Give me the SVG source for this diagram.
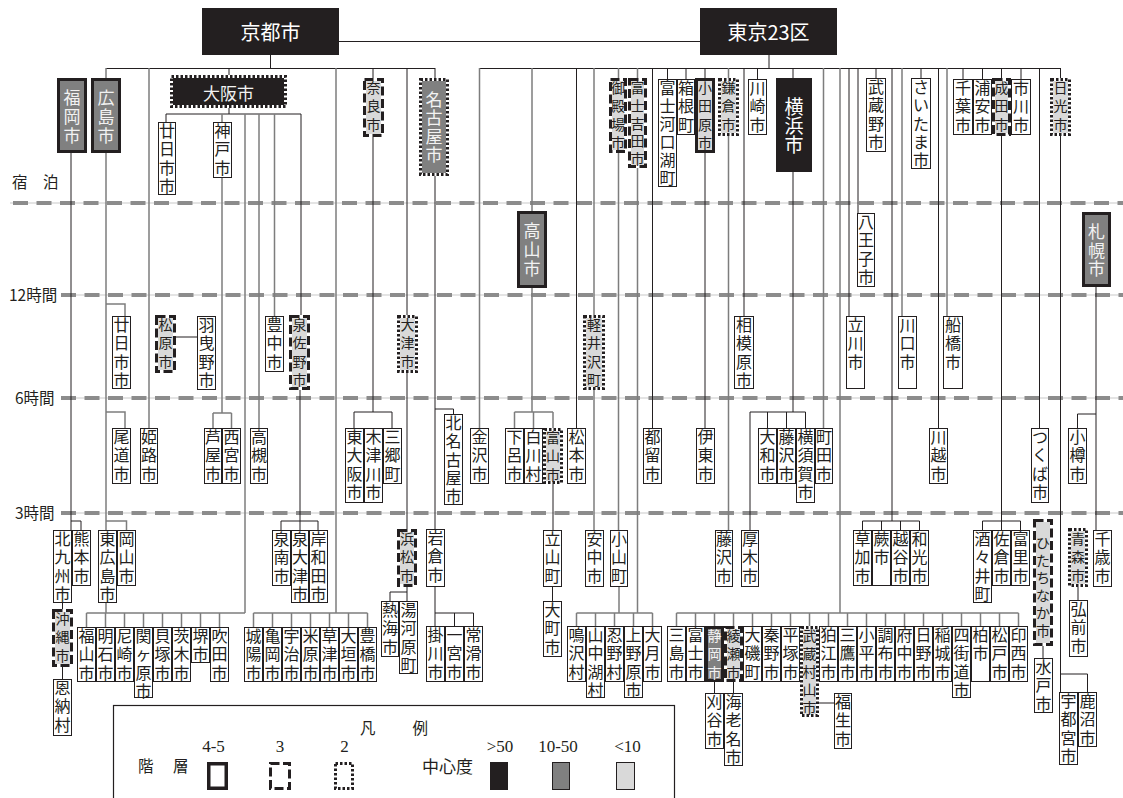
<svg xmlns="http://www.w3.org/2000/svg" width="1123" height="798" viewBox="0 0 1123 798">
<style>
.ck{fill:none;stroke:#231f20;stroke-width:1}
.cg{fill:none;stroke:#7d7d7d;stroke-width:1.5}
.w{fill:#fff;stroke:#231f20;stroke-width:1}
.bl{fill:#d9d9d9;stroke:#fff;stroke-width:3}
.bd{fill:#808080;stroke:#fff;stroke-width:3}
.bk{fill:#231f20;stroke:#fff;stroke-width:3}
.sl{fill:#d9d9d9;stroke:#231f20;stroke-width:3}
.sd{fill:#808080;stroke:#231f20;stroke-width:3}
.da{fill:none;stroke:#231f20;stroke-width:3;stroke-dasharray:9 3.5}
.do{fill:none;stroke:#231f20;stroke-width:3;stroke-dasharray:2.5 2}
.blk{fill:#231f20}
text{font-family:"Noto Sans CJK JP","Noto Sans CJK SC",sans-serif;fill:#231f20}
.t{font-size:16px;text-anchor:middle}
.ts{font-size:14px;text-anchor:middle}
.tb{font-size:17px;text-anchor:middle;fill:#f2f2f2}
.th{font-size:20px;text-anchor:middle;fill:#fff}
.tw{fill:#f2f2f2}
.lab{font-size:15.5px}
.num{font-family:"Liberation Serif",serif;font-size:17px;text-anchor:middle}
.tl1{stroke:#dcdcdc;stroke-width:1.5;fill:none}
.tl2{stroke:#8c8c8c;stroke-width:4;stroke-dasharray:15 8.5;fill:none}
</style>
<rect width="1123" height="798" fill="#fff"/>
<g id="time-lines">
<path class="tl1" d="M10,203H1123M61,295H1123M61,398H1123M61,513H1123"/>
<path class="tl2" d="M13,203H1123M61,295H1123M61,398H1123M61,513H1123"/>
<text class="lab" x="12" y="188">宿　泊</text>
<text class="lab" x="9" y="301">12時間</text>
<text class="lab" x="15" y="404">6時間</text>
<text class="lab" x="15" y="519">3時間</text>
</g>
<g id="connectors">
<path class="ck" d="M339,41.5H700M270.5,55V68.5M106,68.5H435M71,153V530M71,521H81V530M229,68V75M229,108V114M166,114H301M166,114V122M301,114V315M300,390V530M281,521H318M281,521V530M318,521V530M176,337H197M373,68V78M373,137V412M354,412H392M354,412V428M392,412V428M407,68V315M407,373V529M407,587V601M390,592H407M390,592V601M435,68V78M435,176V529M435,409H453.5V414M435,587V626M435,613H473.5M454.5,613V626M473.5,613V626M62.5,603V610M62.5,667V679"/>
<path class="ck" d="M769,55V68.5M479,68.5H1060.5M576.5,68V428M652.5,68V428M705,68V78M705,153V428M744,68V316M757.5,68V79M667.5,68V79M686,68V79M793,68V78M793,172V412M750,412H805.5M767.5,412V428M786.5,412V428M805.5,412V428M750,412V530M849,68V316M858,68V213M876,68V78M892,68V521M862.5,521H919.5M862.5,521V530M881.5,521V530M900.5,521V530M919.5,521V530M921,68V78M938.5,68V428M963,68V79M982.5,68V79M1001.5,68V78M1021,68V79M1001.5,136V530M982.5,521H1020.5M982.5,521V530M1020.5,521V530M1039.5,68V428M1060.5,68V78M1060.5,136V692M1060.5,674H1087.5V692M1043,645V658M1096,287V530M1077.5,414H1096M1077.5,414V428M1078,587V600M714.5,682V693M733.5,682V693M819,703H834M553,484V530M552.5,587V601"/>
<path class="cg" d="M106,68V78M106,153V613M106,304H125V316M106,412H125V428M106,521H126.5V530M149,68V428M222,114V122M222,178V413M213,413H231.5M213,413V428M231.5,413V428M245,114V613M86.5,613H245M86.5,613V627M105.5,613V627M124.5,613V627M143.5,613V627M162.5,613V627M181.5,613V627M200.5,613V627M219.5,613V627M259,114V428M274.5,114V316M336,68V613M253.5,613H367.5M253.5,613V627M272.5,613V627M291.5,613V627M310.5,613V627M329.5,613V627M348.5,613V627M367.5,613V627"/>
<path class="cg" d="M479.5,68V428M532,68V211M532,288V412M514.5,412H553M514.5,412V428M533.5,412V428M553,412V428M594,68V315M594,390V530M618.5,68V78M618.5,153V530M619,587V613M637.5,68V78M637.5,168V613M576.5,613H652.5M576.5,613V626M595.5,613V626M614.5,613V626M633.5,613V626M652.5,613V626M728.5,68V78M728.5,136V530M823.5,68V428M840,68V613M676.5,613H1018.5M676.5,613V626M695.5,613V626M714.5,613V626M733.5,613V626M752.5,613V626M771.5,613V626M790.5,613V626M809.5,613V626M828.5,613V626M847.5,613V626M866.5,613V626M885.5,613V626M904.5,613V626M923.5,613V626M942.5,613V626M961.5,613V626M980.5,613V626M999.5,613V626M1018.5,613V626M902,68V316M947,68V316"/>
</g>
<g id="n-kyoto"><rect class="blk" x="202" y="8" width="137" height="47"/><text class="th" x="270.5" y="40">京都市</text></g>
<g id="n-tokyo"><rect class="blk" x="700" y="8" width="137" height="47"/><text class="th" x="768.5" y="40">東京23区</text></g>
<g id="n-fukuoka"><rect class="sd" x="58.5" y="79.5" width="27" height="72"/><text class="tb"><tspan x="72" y="103.5">福</tspan><tspan x="72" y="122.5">岡</tspan><tspan x="72" y="141.5">市</tspan></text></g>
<g id="n-hiroshima"><rect class="sd" x="92.5" y="79.5" width="27" height="72"/><text class="tb"><tspan x="106" y="103.5">広</tspan><tspan x="106" y="122.5">島</tspan><tspan x="106" y="141.5">市</tspan></text></g>
<g id="n-osaka"><rect class="bk" x="171.5" y="76.5" width="114" height="30"/><rect class="do" x="171.5" y="76.5" width="114" height="30"/><text class="tb" x="228.5" y="99.5">大阪市</text></g>
<g id="n-nara"><rect class="bl" x="364.5" y="79.5" width="18" height="56"/><rect class="da" x="364.5" y="79.5" width="18" height="56"/><text class="ts"><tspan x="373.5" y="93">奈</tspan><tspan x="373.5" y="111.3">良</tspan><tspan x="373.5" y="129.6">市</tspan></text></g>
<g id="n-nagoya"><rect class="bd" x="420.5" y="79.5" width="27" height="95"/><rect class="do" x="420.5" y="79.5" width="27" height="95"/><text class="tb"><tspan x="434" y="105.5">名</tspan><tspan x="434" y="124">古</tspan><tspan x="434" y="142.5">屋</tspan><tspan x="434" y="161">市</tspan></text></g>
<g id="n-hatsukaichi1"><rect class="w" x="158.5" y="122.5" width="17" height="72"/><text class="t"><tspan x="167" y="137">廿</tspan><tspan x="167" y="155.3">日</tspan><tspan x="167" y="173.6">市</tspan><tspan x="167" y="191.9">市</tspan></text></g>
<g id="n-kobe"><rect class="w" x="213.5" y="122.5" width="18" height="55"/><text class="t"><tspan x="222.5" y="137">神</tspan><tspan x="222.5" y="155.3">戸</tspan><tspan x="222.5" y="173.6">市</tspan></text></g>
<g id="n-hatsukaichi2"><rect class="w" x="112.5" y="316.5" width="18" height="72"/><text class="t"><tspan x="121.5" y="331">廿</tspan><tspan x="121.5" y="349.3">日</tspan><tspan x="121.5" y="367.6">市</tspan><tspan x="121.5" y="385.9">市</tspan></text></g>
<g id="n-matsubara"><rect class="bl" x="156.5" y="316.5" width="18" height="55"/><rect class="da" x="156.5" y="316.5" width="18" height="55"/><text class="ts"><tspan x="165.5" y="330">松</tspan><tspan x="165.5" y="348.3">原</tspan><tspan x="165.5" y="366.6">市</tspan></text></g>
<g id="n-habikino"><rect class="w" x="197.5" y="316.5" width="18" height="73"/><text class="t"><tspan x="206.5" y="331">羽</tspan><tspan x="206.5" y="349.3">曳</tspan><tspan x="206.5" y="367.6">野</tspan><tspan x="206.5" y="385.9">市</tspan></text></g>
<g id="n-toyonaka"><rect class="w" x="265.5" y="316.5" width="18" height="55"/><text class="t"><tspan x="274.5" y="331">豊</tspan><tspan x="274.5" y="349.3">中</tspan><tspan x="274.5" y="367.6">市</tspan></text></g>
<g id="n-izumisano"><rect class="bl" x="290.5" y="316.5" width="18" height="72"/><rect class="da" x="290.5" y="316.5" width="18" height="72"/><text class="ts"><tspan x="299.5" y="330">泉</tspan><tspan x="299.5" y="348.3">佐</tspan><tspan x="299.5" y="366.6">野</tspan><tspan x="299.5" y="384.9">市</tspan></text></g>
<g id="n-otsu"><rect class="bl" x="398.5" y="316.5" width="18" height="55"/><rect class="do" x="398.5" y="316.5" width="18" height="55"/><text class="ts"><tspan x="407.5" y="330">大</tspan><tspan x="407.5" y="348.3">津</tspan><tspan x="407.5" y="366.6">市</tspan></text></g>
<g id="n-onomichi"><rect class="w" x="112.5" y="428.5" width="18" height="55"/><text class="t"><tspan x="121.5" y="443">尾</tspan><tspan x="121.5" y="461.3">道</tspan><tspan x="121.5" y="479.6">市</tspan></text></g>
<g id="n-himeji"><rect class="w" x="140.5" y="428.5" width="17" height="55"/><text class="t"><tspan x="149" y="443">姫</tspan><tspan x="149" y="461.3">路</tspan><tspan x="149" y="479.6">市</tspan></text></g>
<g id="n-ashiya"><rect class="w" x="204.5" y="428.5" width="17" height="55"/><text class="t"><tspan x="213" y="443">芦</tspan><tspan x="213" y="461.3">屋</tspan><tspan x="213" y="479.6">市</tspan></text></g>
<g id="n-nishinomiya"><rect class="w" x="222.5" y="428.5" width="18" height="55"/><text class="t"><tspan x="231.5" y="443">西</tspan><tspan x="231.5" y="461.3">宮</tspan><tspan x="231.5" y="479.6">市</tspan></text></g>
<g id="n-takatsuki"><rect class="w" x="250.5" y="428.5" width="17" height="55"/><text class="t"><tspan x="259" y="443">高</tspan><tspan x="259" y="461.3">槻</tspan><tspan x="259" y="479.6">市</tspan></text></g>
<g id="n-higashiosaka"><rect class="w" x="345.5" y="428.5" width="18" height="74"/><text class="t"><tspan x="354.5" y="443">東</tspan><tspan x="354.5" y="461.3">大</tspan><tspan x="354.5" y="479.6">阪</tspan><tspan x="354.5" y="497.9">市</tspan></text></g>
<g id="n-kizugawa"><rect class="w" x="364.5" y="428.5" width="18" height="74"/><text class="t"><tspan x="373.5" y="443">木</tspan><tspan x="373.5" y="461.3">津</tspan><tspan x="373.5" y="479.6">川</tspan><tspan x="373.5" y="497.9">市</tspan></text></g>
<g id="n-sango"><rect class="w" x="383.5" y="428.5" width="18" height="55"/><text class="t"><tspan x="392.5" y="443">三</tspan><tspan x="392.5" y="461.3">郷</tspan><tspan x="392.5" y="479.6">町</tspan></text></g>
<g id="n-kitanagoya"><rect class="w" x="444.5" y="414.5" width="18" height="90"/><text class="t"><tspan x="453.5" y="429">北</tspan><tspan x="453.5" y="447.3">名</tspan><tspan x="453.5" y="465.6">古</tspan><tspan x="453.5" y="483.9">屋</tspan><tspan x="453.5" y="502.2">市</tspan></text></g>
<g id="n-kitakyushu"><rect class="w" x="53.5" y="530.5" width="18" height="72"/><text class="t"><tspan x="62.5" y="545">北</tspan><tspan x="62.5" y="563.3">九</tspan><tspan x="62.5" y="581.6">州</tspan><tspan x="62.5" y="599.9">市</tspan></text></g>
<g id="n-kumamoto"><rect class="w" x="72.5" y="530.5" width="18" height="55"/><text class="t"><tspan x="81.5" y="545">熊</tspan><tspan x="81.5" y="563.3">本</tspan><tspan x="81.5" y="581.6">市</tspan></text></g>
<g id="n-higashihiroshima"><rect class="w" x="98.5" y="530.5" width="18" height="72"/><text class="t"><tspan x="107.5" y="545">東</tspan><tspan x="107.5" y="563.3">広</tspan><tspan x="107.5" y="581.6">島</tspan><tspan x="107.5" y="599.9">市</tspan></text></g>
<g id="n-okayama"><rect class="w" x="117.5" y="530.5" width="18" height="55"/><text class="t"><tspan x="126.5" y="545">岡</tspan><tspan x="126.5" y="563.3">山</tspan><tspan x="126.5" y="581.6">市</tspan></text></g>
<g id="n-sennan"><rect class="w" x="272.5" y="530.5" width="18" height="55"/><text class="t"><tspan x="281.5" y="545">泉</tspan><tspan x="281.5" y="563.3">南</tspan><tspan x="281.5" y="581.6">市</tspan></text></g>
<g id="n-izumiotsu"><rect class="w" x="291.5" y="530.5" width="17" height="72"/><text class="t"><tspan x="300" y="545">泉</tspan><tspan x="300" y="563.3">大</tspan><tspan x="300" y="581.6">津</tspan><tspan x="300" y="599.9">市</tspan></text></g>
<g id="n-kishiwada"><rect class="w" x="309.5" y="530.5" width="18" height="72"/><text class="t"><tspan x="318.5" y="545">岸</tspan><tspan x="318.5" y="563.3">和</tspan><tspan x="318.5" y="581.6">田</tspan><tspan x="318.5" y="599.9">市</tspan></text></g>
<g id="n-hamamatsu"><rect class="bl" x="398.5" y="530.5" width="17" height="55"/><rect class="da" x="398.5" y="530.5" width="17" height="55"/><text class="ts"><tspan x="407" y="544">浜</tspan><tspan x="407" y="562.3">松</tspan><tspan x="407" y="580.6">市</tspan></text></g>
<g id="n-iwakura"><rect class="w" x="426.5" y="529.5" width="18" height="57"/><text class="t"><tspan x="435.5" y="544">岩</tspan><tspan x="435.5" y="562.3">倉</tspan><tspan x="435.5" y="580.6">市</tspan></text></g>
<g id="n-okinawa"><rect class="bl" x="53.5" y="610.5" width="18" height="55"/><rect class="da" x="53.5" y="610.5" width="18" height="55"/><text class="ts"><tspan x="62.5" y="624">沖</tspan><tspan x="62.5" y="642.3">縄</tspan><tspan x="62.5" y="660.6">市</tspan></text></g>
<g id="n-onna"><rect class="w" x="53.5" y="679.5" width="18" height="56"/><text class="t"><tspan x="62.5" y="694">恩</tspan><tspan x="62.5" y="712.3">納</tspan><tspan x="62.5" y="730.6">村</tspan></text></g>
<g id="n-fukuyama"><rect class="w" x="77.5" y="627.5" width="18" height="54"/><text class="t"><tspan x="86.5" y="642">福</tspan><tspan x="86.5" y="660.3">山</tspan><tspan x="86.5" y="678.6">市</tspan></text></g>
<g id="n-akashi"><rect class="w" x="96.5" y="627.5" width="18" height="54"/><text class="t"><tspan x="105.5" y="642">明</tspan><tspan x="105.5" y="660.3">石</tspan><tspan x="105.5" y="678.6">市</tspan></text></g>
<g id="n-amagasaki"><rect class="w" x="115.5" y="627.5" width="18" height="54"/><text class="t"><tspan x="124.5" y="642">尼</tspan><tspan x="124.5" y="660.3">崎</tspan><tspan x="124.5" y="678.6">市</tspan></text></g>
<g id="n-sekigahara"><rect class="w" x="134.5" y="627.5" width="18" height="70"/><text class="t"><tspan x="143.5" y="642">関</tspan><tspan x="143.5" y="660.3">ヶ</tspan><tspan x="143.5" y="678.6">原</tspan><tspan x="143.5" y="696.9">市</tspan></text></g>
<g id="n-kaizuka"><rect class="w" x="153.5" y="627.5" width="18" height="54"/><text class="t"><tspan x="162.5" y="642">貝</tspan><tspan x="162.5" y="660.3">塚</tspan><tspan x="162.5" y="678.6">市</tspan></text></g>
<g id="n-ibaraki"><rect class="w" x="172.5" y="627.5" width="18" height="54"/><text class="t"><tspan x="181.5" y="642">茨</tspan><tspan x="181.5" y="660.3">木</tspan><tspan x="181.5" y="678.6">市</tspan></text></g>
<g id="n-sakai"><rect class="w" x="191.5" y="627.5" width="18" height="35"/><text class="t"><tspan x="200.5" y="642">堺</tspan><tspan x="200.5" y="660.3">市</tspan></text></g>
<g id="n-suita"><rect class="w" x="210.5" y="627.5" width="18" height="54"/><text class="t"><tspan x="219.5" y="642">吹</tspan><tspan x="219.5" y="660.3">田</tspan><tspan x="219.5" y="678.6">市</tspan></text></g>
<g id="n-joyo"><rect class="w" x="244.5" y="627.5" width="18" height="54"/><text class="t"><tspan x="253.5" y="642">城</tspan><tspan x="253.5" y="660.3">陽</tspan><tspan x="253.5" y="678.6">市</tspan></text></g>
<g id="n-kameoka"><rect class="w" x="263.5" y="627.5" width="18" height="54"/><text class="t"><tspan x="272.5" y="642">亀</tspan><tspan x="272.5" y="660.3">岡</tspan><tspan x="272.5" y="678.6">市</tspan></text></g>
<g id="n-uji"><rect class="w" x="282.5" y="627.5" width="18" height="54"/><text class="t"><tspan x="291.5" y="642">宇</tspan><tspan x="291.5" y="660.3">治</tspan><tspan x="291.5" y="678.6">市</tspan></text></g>
<g id="n-maibara"><rect class="w" x="301.5" y="627.5" width="18" height="54"/><text class="t"><tspan x="310.5" y="642">米</tspan><tspan x="310.5" y="660.3">原</tspan><tspan x="310.5" y="678.6">市</tspan></text></g>
<g id="n-kusatsu"><rect class="w" x="320.5" y="627.5" width="18" height="54"/><text class="t"><tspan x="329.5" y="642">草</tspan><tspan x="329.5" y="660.3">津</tspan><tspan x="329.5" y="678.6">市</tspan></text></g>
<g id="n-ogaki"><rect class="w" x="339.5" y="627.5" width="18" height="54"/><text class="t"><tspan x="348.5" y="642">大</tspan><tspan x="348.5" y="660.3">垣</tspan><tspan x="348.5" y="678.6">市</tspan></text></g>
<g id="n-toyohashi"><rect class="w" x="358.5" y="627.5" width="18" height="54"/><text class="t"><tspan x="367.5" y="642">豊</tspan><tspan x="367.5" y="660.3">橋</tspan><tspan x="367.5" y="678.6">市</tspan></text></g>
<g id="n-atami"><rect class="w" x="381.5" y="601.5" width="17" height="55"/><text class="t"><tspan x="390" y="616">熱</tspan><tspan x="390" y="634.3">海</tspan><tspan x="390" y="652.6">市</tspan></text></g>
<g id="n-yugawara"><rect class="w" x="399.5" y="601.5" width="18" height="72"/><text class="t"><tspan x="408.5" y="616">湯</tspan><tspan x="408.5" y="634.3">河</tspan><tspan x="408.5" y="652.6">原</tspan><tspan x="408.5" y="670.9">町</tspan></text></g>
<g id="n-kakegawa"><rect class="w" x="426.5" y="626.5" width="18" height="55"/><text class="t"><tspan x="435.5" y="641">掛</tspan><tspan x="435.5" y="659.3">川</tspan><tspan x="435.5" y="677.6">市</tspan></text></g>
<g id="n-ichinomiya"><rect class="w" x="445.5" y="626.5" width="18" height="55"/><text class="t"><tspan x="454.5" y="641">一</tspan><tspan x="454.5" y="659.3">宮</tspan><tspan x="454.5" y="677.6">市</tspan></text></g>
<g id="n-tokoname"><rect class="w" x="464.5" y="626.5" width="18" height="55"/><text class="t"><tspan x="473.5" y="641">常</tspan><tspan x="473.5" y="659.3">滑</tspan><tspan x="473.5" y="677.6">市</tspan></text></g>
<g id="n-takayama"><rect class="sd" x="518.5" y="212.5" width="27" height="74"/><text class="tb"><tspan x="532" y="236.5">高</tspan><tspan x="532" y="255.5">山</tspan><tspan x="532" y="274.5">市</tspan></text></g>
<g id="n-gero"><rect class="w" x="505.5" y="428.5" width="18" height="55"/><text class="t"><tspan x="514.5" y="443">下</tspan><tspan x="514.5" y="461.3">呂</tspan><tspan x="514.5" y="479.6">市</tspan></text></g>
<g id="n-shirakawa"><rect class="w" x="524.5" y="428.5" width="18" height="55"/><text class="t"><tspan x="533.5" y="443">白</tspan><tspan x="533.5" y="461.3">川</tspan><tspan x="533.5" y="479.6">村</tspan></text></g>
<g id="n-toyama"><rect class="bl" x="544.5" y="429.5" width="17" height="53"/><rect class="do" x="544.5" y="429.5" width="17" height="53"/><text class="ts"><tspan x="553" y="443">富</tspan><tspan x="553" y="461.3">山</tspan><tspan x="553" y="479.6">市</tspan></text></g>
<g id="n-tateyama"><rect class="w" x="543.5" y="530.5" width="18" height="56"/><text class="t"><tspan x="552.5" y="545">立</tspan><tspan x="552.5" y="563.3">山</tspan><tspan x="552.5" y="581.6">町</tspan></text></g>
<g id="n-omachi"><rect class="w" x="543.5" y="601.5" width="18" height="55"/><text class="t"><tspan x="552.5" y="616">大</tspan><tspan x="552.5" y="634.3">町</tspan><tspan x="552.5" y="652.6">市</tspan></text></g>
<g id="n-kanazawa"><rect class="w" x="470.5" y="428.5" width="18" height="55"/><text class="t"><tspan x="479.5" y="443">金</tspan><tspan x="479.5" y="461.3">沢</tspan><tspan x="479.5" y="479.6">市</tspan></text></g>
<g id="n-matsumoto"><rect class="w" x="567.5" y="428.5" width="18" height="55"/><text class="t"><tspan x="576.5" y="443">松</tspan><tspan x="576.5" y="461.3">本</tspan><tspan x="576.5" y="479.6">市</tspan></text></g>
<g id="n-karuizawa"><rect class="bl" x="584.5" y="316.5" width="19" height="72"/><rect class="do" x="584.5" y="316.5" width="19" height="72"/><text class="ts"><tspan x="594" y="330">軽</tspan><tspan x="594" y="348.3">井</tspan><tspan x="594" y="366.6">沢</tspan><tspan x="594" y="384.9">町</tspan></text></g>
<g id="n-annaka"><rect class="w" x="585.5" y="530.5" width="18" height="56"/><text class="t"><tspan x="594.5" y="545">安</tspan><tspan x="594.5" y="563.3">中</tspan><tspan x="594.5" y="581.6">市</tspan></text></g>
<g id="n-gotemba"><rect class="bl" x="610.5" y="79.5" width="15" height="72"/><rect class="da" x="610.5" y="79.5" width="15" height="72"/><text class="ts"><tspan x="618" y="93">御</tspan><tspan x="618" y="111.3">殿</tspan><tspan x="618" y="129.6">場</tspan><tspan x="618" y="147.9">市</tspan></text></g>
<g id="n-fujiyoshida"><rect class="bl" x="629.5" y="79.5" width="16" height="87"/><rect class="da" x="629.5" y="79.5" width="16" height="87"/><text class="ts"><tspan x="637.5" y="93">富</tspan><tspan x="637.5" y="110.8">士</tspan><tspan x="637.5" y="128.6">吉</tspan><tspan x="637.5" y="146.4">田</tspan><tspan x="637.5" y="164.2">市</tspan></text></g>
<g id="n-oyama"><rect class="w" x="610.5" y="530.5" width="17" height="56"/><text class="t"><tspan x="619" y="545">小</tspan><tspan x="619" y="563.3">山</tspan><tspan x="619" y="581.6">町</tspan></text></g>
<g id="n-tsuru"><rect class="w" x="643.5" y="428.5" width="18" height="55"/><text class="t"><tspan x="652.5" y="443">都</tspan><tspan x="652.5" y="461.3">留</tspan><tspan x="652.5" y="479.6">市</tspan></text></g>
<g id="n-fujikawaguchiko"><rect class="w" x="658.5" y="79.5" width="18" height="107"/><text class="t"><tspan x="667.5" y="94">富</tspan><tspan x="667.5" y="112">士</tspan><tspan x="667.5" y="130">河</tspan><tspan x="667.5" y="148">口</tspan><tspan x="667.5" y="166">湖</tspan><tspan x="667.5" y="184">町</tspan></text></g>
<g id="n-hakone"><rect class="w" x="677.5" y="79.5" width="17" height="55"/><text class="t"><tspan x="686" y="94">箱</tspan><tspan x="686" y="112.3">根</tspan><tspan x="686" y="130.6">町</tspan></text></g>
<g id="n-odawara"><rect class="sl" x="696.5" y="79.5" width="17" height="72"/><text class="ts"><tspan x="705" y="93">小</tspan><tspan x="705" y="111.3">田</tspan><tspan x="705" y="129.6">原</tspan><tspan x="705" y="147.9">市</tspan></text></g>
<g id="n-kamakura"><rect class="bl" x="719.5" y="79.5" width="18" height="55"/><rect class="do" x="719.5" y="79.5" width="18" height="55"/><text class="ts"><tspan x="728.5" y="93">鎌</tspan><tspan x="728.5" y="111.3">倉</tspan><tspan x="728.5" y="129.6">市</tspan></text></g>
<g id="n-kawasaki"><rect class="w" x="748.5" y="79.5" width="18" height="55"/><text class="t"><tspan x="757.5" y="94">川</tspan><tspan x="757.5" y="112.3">崎</tspan><tspan x="757.5" y="130.6">市</tspan></text></g>
<g id="n-yokohama"><rect class="blk" x="776" y="78" width="36" height="94"/><text class="th" style="font-size:19px"><tspan x="794" y="114">横</tspan><tspan x="794" y="133">浜</tspan><tspan x="794" y="152">市</tspan></text></g>
<g id="n-ito"><rect class="w" x="696.5" y="428.5" width="18" height="55"/><text class="t"><tspan x="705.5" y="443">伊</tspan><tspan x="705.5" y="461.3">東</tspan><tspan x="705.5" y="479.6">市</tspan></text></g>
<g id="n-sagamihara"><rect class="w" x="734.5" y="316.5" width="19" height="72"/><text class="t"><tspan x="744" y="331">相</tspan><tspan x="744" y="349.3">模</tspan><tspan x="744" y="367.6">原</tspan><tspan x="744" y="385.9">市</tspan></text></g>
<g id="n-yamato"><rect class="w" x="758.5" y="428.5" width="18" height="55"/><text class="t"><tspan x="767.5" y="443">大</tspan><tspan x="767.5" y="461.3">和</tspan><tspan x="767.5" y="479.6">市</tspan></text></g>
<g id="n-fujisawa1"><rect class="w" x="777.5" y="428.5" width="18" height="55"/><text class="t"><tspan x="786.5" y="443">藤</tspan><tspan x="786.5" y="461.3">沢</tspan><tspan x="786.5" y="479.6">市</tspan></text></g>
<g id="n-yokosuka"><rect class="w" x="796.5" y="428.5" width="18" height="74"/><text class="t"><tspan x="805.5" y="443">横</tspan><tspan x="805.5" y="461.3">須</tspan><tspan x="805.5" y="479.6">賀</tspan><tspan x="805.5" y="497.9">市</tspan></text></g>
<g id="n-machida"><rect class="w" x="815.5" y="428.5" width="17" height="55"/><text class="t"><tspan x="824" y="443">町</tspan><tspan x="824" y="461.3">田</tspan><tspan x="824" y="479.6">市</tspan></text></g>
<g id="n-fujisawa2"><rect class="w" x="715.5" y="530.5" width="17" height="56"/><text class="t"><tspan x="724" y="545">藤</tspan><tspan x="724" y="563.3">沢</tspan><tspan x="724" y="581.6">市</tspan></text></g>
<g id="n-atsugi"><rect class="w" x="741.5" y="530.5" width="17" height="56"/><text class="t"><tspan x="750" y="545">厚</tspan><tspan x="750" y="563.3">木</tspan><tspan x="750" y="581.6">市</tspan></text></g>
<g id="n-narusawa"><rect class="w" x="567.5" y="626.5" width="18" height="55"/><text class="t"><tspan x="576.5" y="641">鳴</tspan><tspan x="576.5" y="659.3">沢</tspan><tspan x="576.5" y="677.6">村</tspan></text></g>
<g id="n-yamanakako"><rect class="w" x="586.5" y="626.5" width="18" height="71"/><text class="t"><tspan x="595.5" y="641">山</tspan><tspan x="595.5" y="659.3">中</tspan><tspan x="595.5" y="677.6">湖</tspan><tspan x="595.5" y="695.9">村</tspan></text></g>
<g id="n-oshino"><rect class="w" x="605.5" y="626.5" width="18" height="55"/><text class="t"><tspan x="614.5" y="641">忍</tspan><tspan x="614.5" y="659.3">野</tspan><tspan x="614.5" y="677.6">村</tspan></text></g>
<g id="n-uenohara"><rect class="w" x="624.5" y="626.5" width="18" height="71"/><text class="t"><tspan x="633.5" y="641">上</tspan><tspan x="633.5" y="659.3">野</tspan><tspan x="633.5" y="677.6">原</tspan><tspan x="633.5" y="695.9">市</tspan></text></g>
<g id="n-otsuki"><rect class="w" x="643.5" y="626.5" width="18" height="55"/><text class="t"><tspan x="652.5" y="641">大</tspan><tspan x="652.5" y="659.3">月</tspan><tspan x="652.5" y="677.6">市</tspan></text></g>
<g id="n-mishima"><rect class="w" x="667.5" y="626.5" width="18" height="55"/><text class="t"><tspan x="676.5" y="641">三</tspan><tspan x="676.5" y="659.3">島</tspan><tspan x="676.5" y="677.6">市</tspan></text></g>
<g id="n-fuji"><rect class="w" x="686.5" y="626.5" width="18" height="55"/><text class="t"><tspan x="695.5" y="641">富</tspan><tspan x="695.5" y="659.3">士</tspan><tspan x="695.5" y="677.6">市</tspan></text></g>
<g id="n-shizuoka"><rect class="sd" x="706.5" y="627.5" width="16" height="53"/><text class="ts tw"><tspan x="714.5" y="641">静</tspan><tspan x="714.5" y="659.3">岡</tspan><tspan x="714.5" y="677.6">市</tspan></text></g>
<g id="n-ayase"><rect class="bl" x="725.5" y="627.5" width="16" height="53"/><rect class="da" x="725.5" y="627.5" width="16" height="53"/><text class="ts"><tspan x="733.5" y="641">綾</tspan><tspan x="733.5" y="659.3">瀬</tspan><tspan x="733.5" y="677.6">市</tspan></text></g>
<g id="n-oiso"><rect class="w" x="743.5" y="626.5" width="18" height="55"/><text class="t"><tspan x="752.5" y="641">大</tspan><tspan x="752.5" y="659.3">磯</tspan><tspan x="752.5" y="677.6">町</tspan></text></g>
<g id="n-hadano"><rect class="w" x="762.5" y="626.5" width="18" height="55"/><text class="t"><tspan x="771.5" y="641">秦</tspan><tspan x="771.5" y="659.3">野</tspan><tspan x="771.5" y="677.6">市</tspan></text></g>
<g id="n-hiratsuka"><rect class="w" x="781.5" y="626.5" width="18" height="55"/><text class="t"><tspan x="790.5" y="641">平</tspan><tspan x="790.5" y="659.3">塚</tspan><tspan x="790.5" y="677.6">市</tspan></text></g>
<g id="n-musashimurayama"><rect class="bl" x="801.5" y="627.5" width="16" height="88"/><rect class="do" x="801.5" y="627.5" width="16" height="88"/><text class="ts"><tspan x="809.5" y="641">武</tspan><tspan x="809.5" y="659">蔵</tspan><tspan x="809.5" y="677">村</tspan><tspan x="809.5" y="695">山</tspan><tspan x="809.5" y="713">市</tspan></text></g>
<g id="n-komae"><rect class="w" x="819.5" y="626.5" width="18" height="55"/><text class="t"><tspan x="828.5" y="641">狛</tspan><tspan x="828.5" y="659.3">江</tspan><tspan x="828.5" y="677.6">市</tspan></text></g>
<g id="n-mitaka"><rect class="w" x="838.5" y="626.5" width="18" height="55"/><text class="t"><tspan x="847.5" y="641">三</tspan><tspan x="847.5" y="659.3">鷹</tspan><tspan x="847.5" y="677.6">市</tspan></text></g>
<g id="n-kodaira"><rect class="w" x="857.5" y="626.5" width="18" height="55"/><text class="t"><tspan x="866.5" y="641">小</tspan><tspan x="866.5" y="659.3">平</tspan><tspan x="866.5" y="677.6">市</tspan></text></g>
<g id="n-chofu"><rect class="w" x="876.5" y="626.5" width="18" height="55"/><text class="t"><tspan x="885.5" y="641">調</tspan><tspan x="885.5" y="659.3">布</tspan><tspan x="885.5" y="677.6">市</tspan></text></g>
<g id="n-fuchu"><rect class="w" x="895.5" y="626.5" width="18" height="55"/><text class="t"><tspan x="904.5" y="641">府</tspan><tspan x="904.5" y="659.3">中</tspan><tspan x="904.5" y="677.6">市</tspan></text></g>
<g id="n-hino"><rect class="w" x="914.5" y="626.5" width="18" height="55"/><text class="t"><tspan x="923.5" y="641">日</tspan><tspan x="923.5" y="659.3">野</tspan><tspan x="923.5" y="677.6">市</tspan></text></g>
<g id="n-inagi"><rect class="w" x="933.5" y="626.5" width="18" height="55"/><text class="t"><tspan x="942.5" y="641">稲</tspan><tspan x="942.5" y="659.3">城</tspan><tspan x="942.5" y="677.6">市</tspan></text></g>
<g id="n-yotsukaido"><rect class="w" x="952.5" y="626.5" width="18" height="71"/><text class="t"><tspan x="961.5" y="641">四</tspan><tspan x="961.5" y="659.3">街</tspan><tspan x="961.5" y="677.6">道</tspan><tspan x="961.5" y="695.9">市</tspan></text></g>
<g id="n-kashiwa"><rect class="w" x="971.5" y="626.5" width="18" height="55"/><text class="t"><tspan x="980.5" y="641">柏</tspan><tspan x="980.5" y="659.3">市</tspan></text></g>
<g id="n-matsudo"><rect class="w" x="990.5" y="626.5" width="18" height="55"/><text class="t"><tspan x="999.5" y="641">松</tspan><tspan x="999.5" y="659.3">戸</tspan><tspan x="999.5" y="677.6">市</tspan></text></g>
<g id="n-inzai"><rect class="w" x="1009.5" y="626.5" width="18" height="55"/><text class="t"><tspan x="1018.5" y="641">印</tspan><tspan x="1018.5" y="659.3">西</tspan><tspan x="1018.5" y="677.6">市</tspan></text></g>
<g id="n-kariya"><rect class="w" x="705.5" y="693.5" width="18" height="55"/><text class="t"><tspan x="714.5" y="708">刈</tspan><tspan x="714.5" y="726.3">谷</tspan><tspan x="714.5" y="744.6">市</tspan></text></g>
<g id="n-ebina"><rect class="w" x="724.5" y="693.5" width="18" height="72"/><text class="t"><tspan x="733.5" y="708">海</tspan><tspan x="733.5" y="726.3">老</tspan><tspan x="733.5" y="744.6">名</tspan><tspan x="733.5" y="762.9">市</tspan></text></g>
<g id="n-fussa"><rect class="w" x="834.5" y="693.5" width="17" height="55"/><text class="t"><tspan x="843" y="708">福</tspan><tspan x="843" y="726.3">生</tspan><tspan x="843" y="744.6">市</tspan></text></g>
<g id="n-musashino"><rect class="w" x="866.5" y="78.5" width="19" height="73"/><text class="t"><tspan x="876" y="93">武</tspan><tspan x="876" y="111.3">蔵</tspan><tspan x="876" y="129.6">野</tspan><tspan x="876" y="147.9">市</tspan></text></g>
<g id="n-saitama"><rect class="w" x="911.5" y="78.5" width="19" height="90"/><text class="t"><tspan x="921" y="93">さ</tspan><tspan x="921" y="111.3">い</tspan><tspan x="921" y="129.6">た</tspan><tspan x="921" y="147.9">ま</tspan><tspan x="921" y="166.2">市</tspan></text></g>
<g id="n-chiba"><rect class="w" x="953.5" y="79.5" width="19" height="55"/><text class="t"><tspan x="963" y="94">千</tspan><tspan x="963" y="112.3">葉</tspan><tspan x="963" y="130.6">市</tspan></text></g>
<g id="n-urayasu"><rect class="w" x="973.5" y="79.5" width="18" height="55"/><text class="t"><tspan x="982.5" y="94">浦</tspan><tspan x="982.5" y="112.3">安</tspan><tspan x="982.5" y="130.6">市</tspan></text></g>
<g id="n-narita"><rect class="bl" x="993.5" y="79.5" width="16" height="55"/><rect class="da" x="993.5" y="79.5" width="16" height="55"/><text class="ts"><tspan x="1001.5" y="93">成</tspan><tspan x="1001.5" y="111.3">田</tspan><tspan x="1001.5" y="129.6">市</tspan></text></g>
<g id="n-ichikawa"><rect class="w" x="1011.5" y="79.5" width="19" height="55"/><text class="t"><tspan x="1021" y="94">市</tspan><tspan x="1021" y="112.3">川</tspan><tspan x="1021" y="130.6">市</tspan></text></g>
<g id="n-nikko"><rect class="bl" x="1051.5" y="79.5" width="18" height="55"/><rect class="do" x="1051.5" y="79.5" width="18" height="55"/><text class="ts"><tspan x="1060.5" y="93">日</tspan><tspan x="1060.5" y="111.3">光</tspan><tspan x="1060.5" y="129.6">市</tspan></text></g>
<g id="n-hachioji"><rect class="w" x="857.5" y="213.5" width="17" height="73"/><text class="t"><tspan x="866" y="228">八</tspan><tspan x="866" y="246.3">王</tspan><tspan x="866" y="264.6">子</tspan><tspan x="866" y="282.9">市</tspan></text></g>
<g id="n-tachikawa"><rect class="w" x="846.5" y="316.5" width="18" height="72"/><text class="t"><tspan x="855.5" y="331">立</tspan><tspan x="855.5" y="349.3">川</tspan><tspan x="855.5" y="367.6">市</tspan></text></g>
<g id="n-kawaguchi"><rect class="w" x="898.5" y="316.5" width="18" height="72"/><text class="t"><tspan x="907.5" y="331">川</tspan><tspan x="907.5" y="349.3">口</tspan><tspan x="907.5" y="367.6">市</tspan></text></g>
<g id="n-funabashi"><rect class="w" x="943.5" y="316.5" width="19" height="72"/><text class="t"><tspan x="953" y="331">船</tspan><tspan x="953" y="349.3">橋</tspan><tspan x="953" y="367.6">市</tspan></text></g>
<g id="n-kawagoe"><rect class="w" x="929.5" y="428.5" width="18" height="55"/><text class="t"><tspan x="938.5" y="443">川</tspan><tspan x="938.5" y="461.3">越</tspan><tspan x="938.5" y="479.6">市</tspan></text></g>
<g id="n-tsukuba"><rect class="w" x="1031.5" y="428.5" width="17" height="74"/><text class="t"><tspan x="1040" y="443">つ</tspan><tspan x="1040" y="461.3">く</tspan><tspan x="1040" y="479.6">ば</tspan><tspan x="1040" y="497.9">市</tspan></text></g>
<g id="n-sapporo"><rect class="sd" x="1083.5" y="213.5" width="26" height="72"/><text class="tb"><tspan x="1096.5" y="237.5">札</tspan><tspan x="1096.5" y="256.5">幌</tspan><tspan x="1096.5" y="275">市</tspan></text></g>
<g id="n-otaru"><rect class="w" x="1068.5" y="428.5" width="18" height="55"/><text class="t"><tspan x="1077.5" y="443">小</tspan><tspan x="1077.5" y="461.3">樽</tspan><tspan x="1077.5" y="479.6">市</tspan></text></g>
<g id="n-soka"><rect class="w" x="853.5" y="530.5" width="18" height="55"/><text class="t"><tspan x="862.5" y="545">草</tspan><tspan x="862.5" y="563.3">加</tspan><tspan x="862.5" y="581.6">市</tspan></text></g>
<g id="n-warabi"><rect class="w" x="872.5" y="530.5" width="18" height="55"/><text class="t"><tspan x="881.5" y="545">蕨</tspan><tspan x="881.5" y="563.3">市</tspan></text></g>
<g id="n-koshigaya"><rect class="w" x="891.5" y="530.5" width="18" height="55"/><text class="t"><tspan x="900.5" y="545">越</tspan><tspan x="900.5" y="563.3">谷</tspan><tspan x="900.5" y="581.6">市</tspan></text></g>
<g id="n-wako"><rect class="w" x="910.5" y="530.5" width="18" height="55"/><text class="t"><tspan x="919.5" y="545">和</tspan><tspan x="919.5" y="563.3">光</tspan><tspan x="919.5" y="581.6">市</tspan></text></g>
<g id="n-shisui"><rect class="w" x="973.5" y="530.5" width="18" height="72"/><text class="t"><tspan x="982.5" y="545">酒</tspan><tspan x="982.5" y="563.3">々</tspan><tspan x="982.5" y="581.6">井</tspan><tspan x="982.5" y="599.9">町</tspan></text></g>
<g id="n-sakura"><rect class="w" x="992.5" y="530.5" width="18" height="55"/><text class="t"><tspan x="1001.5" y="545">佐</tspan><tspan x="1001.5" y="563.3">倉</tspan><tspan x="1001.5" y="581.6">市</tspan></text></g>
<g id="n-tomisato"><rect class="w" x="1011.5" y="530.5" width="18" height="55"/><text class="t"><tspan x="1020.5" y="545">富</tspan><tspan x="1020.5" y="563.3">里</tspan><tspan x="1020.5" y="581.6">市</tspan></text></g>
<g id="n-hitachinaka"><rect class="bl" x="1034.5" y="520.5" width="17" height="124"/><rect class="da" x="1034.5" y="520.5" width="17" height="124"/><text class="ts"><tspan x="1043" y="548">ひ</tspan><tspan x="1043" y="565.5">た</tspan><tspan x="1043" y="583">ち</tspan><tspan x="1043" y="600.5">な</tspan><tspan x="1043" y="618">か</tspan><tspan x="1043" y="635.5">市</tspan></text></g>
<g id="n-mito"><rect class="w" x="1034.5" y="658.5" width="18" height="54"/><text class="t"><tspan x="1043.5" y="673">水</tspan><tspan x="1043.5" y="691.3">戸</tspan><tspan x="1043.5" y="709.6">市</tspan></text></g>
<g id="n-aomori"><rect class="bl" x="1069.5" y="529.5" width="17" height="56"/><rect class="do" x="1069.5" y="529.5" width="17" height="56"/><text class="ts"><tspan x="1078" y="544">青</tspan><tspan x="1078" y="562.3">森</tspan><tspan x="1078" y="580.6">市</tspan></text></g>
<g id="n-hirosaki"><rect class="w" x="1069.5" y="600.5" width="18" height="56"/><text class="t"><tspan x="1078.5" y="615">弘</tspan><tspan x="1078.5" y="633.3">前</tspan><tspan x="1078.5" y="651.6">市</tspan></text></g>
<g id="n-chitose"><rect class="w" x="1093.5" y="530.5" width="18" height="56"/><text class="t"><tspan x="1102.5" y="545">千</tspan><tspan x="1102.5" y="563.3">歳</tspan><tspan x="1102.5" y="581.6">市</tspan></text></g>
<g id="n-utsunomiya"><rect class="w" x="1059.5" y="692.5" width="18" height="72"/><text class="t"><tspan x="1068.5" y="707">宇</tspan><tspan x="1068.5" y="725.3">都</tspan><tspan x="1068.5" y="743.6">宮</tspan><tspan x="1068.5" y="761.9">市</tspan></text></g>
<g id="n-kanuma"><rect class="w" x="1078.5" y="692.5" width="18" height="54"/><text class="t"><tspan x="1087.5" y="707">鹿</tspan><tspan x="1087.5" y="725.3">沼</tspan><tspan x="1087.5" y="743.6">市</tspan></text></g>
<g id="legend">
<rect x="113.5" y="705.5" width="561" height="120" fill="#fff" stroke="#231f20" stroke-width="1.2"/>
<text class="lab" x="360" y="734" style="letter-spacing:2px">凡　　例</text>
<text class="lab" x="138" y="772" style="letter-spacing:2px">階　層</text>
<text class="num" x="213.5" y="752">4-5</text>
<rect x="208.75" y="763.75" width="17.5" height="24.5" fill="#fff" stroke="#231f20" stroke-width="3.5"/>
<text class="num" x="280" y="752">3</text>
<rect x="270.5" y="763.5" width="19" height="25" fill="#fff" stroke="#231f20" stroke-width="3" stroke-dasharray="9 3.5"/>
<text class="num" x="344.5" y="752">2</text>
<rect x="335.5" y="763.5" width="17" height="25" fill="#fff" stroke="#231f20" stroke-width="3" stroke-dasharray="2.5 2"/>
<text x="422" y="773" style="font-size:17px">中心度</text>
<text class="num" x="500" y="752">&gt;50</text>
<rect x="490" y="762" width="18" height="28" fill="#231f20"/>
<text class="num" x="558" y="752">10-50</text>
<rect x="552.5" y="762.5" width="17" height="27" fill="#808080" stroke="#231f20" stroke-width="1"/>
<text class="num" x="627.5" y="752">&lt;10</text>
<rect x="616.5" y="762.5" width="18" height="27" fill="#d9d9d9" stroke="#231f20" stroke-width="1"/>
</g>
</svg>
